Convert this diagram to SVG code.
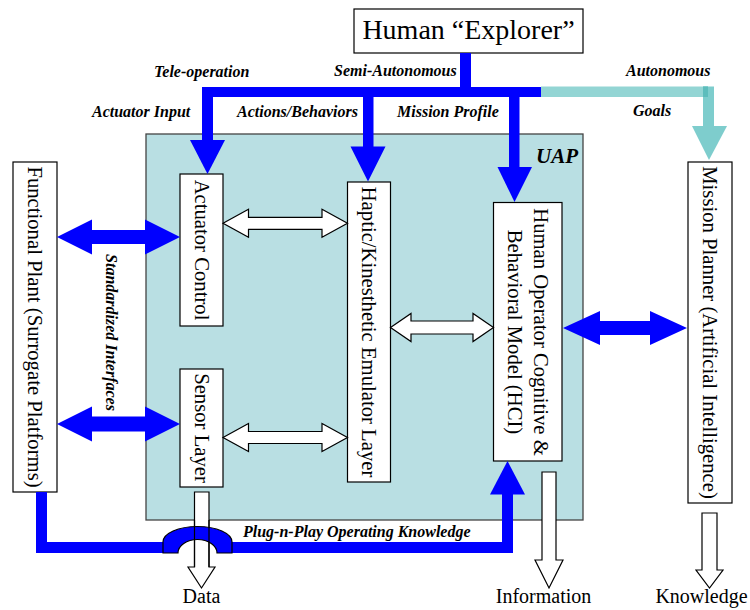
<svg xmlns="http://www.w3.org/2000/svg" width="750" height="610" viewBox="0 0 750 610">
<style>
.box{fill:#fff;stroke:#000;stroke-width:1.2}
.t{font-family:"Liberation Serif","Times New Roman",serif;font-size:20.7px;fill:#000}
.lbl{font-family:"Liberation Serif","Times New Roman",serif;font-size:16px;font-weight:bold;font-style:italic;fill:#000}
.blue{fill:#0000ff}
.wa{fill:#fff;stroke:#000;stroke-width:1.2;stroke-linejoin:miter}
</style>
<rect width="750" height="610" fill="#fff"/>

<g id="uap">
<rect x="146" y="134" width="437" height="386" fill="#b9dfe3" stroke="#444" stroke-width="1.3"/>
<text class="lbl" x="536" y="163" style="font-size:21px">UAP</text>
</g>

<g id="explorer">
<rect class="box" x="354" y="9" width="229" height="44"/>
<text class="t" x="468.5" y="39" text-anchor="middle" style="font-size:28px">Human “Explorer”</text>
</g>

<g id="plant">
<rect class="box" x="13" y="162" width="44" height="330"/>
<text class="t" transform="translate(35,327) rotate(90)" y="7" text-anchor="middle">Functional Plant (Surrogate Platforms)</text>
</g>

<g id="actuator">
<rect class="box" x="180" y="174" width="43" height="152"/>
<text class="t" transform="translate(201.5,250) rotate(90)" y="7" text-anchor="middle">Actuator Control</text>
</g>

<g id="sensor">
<rect class="box" x="180" y="369" width="43" height="118"/>
<text class="t" transform="translate(201.5,428) rotate(90)" y="7" text-anchor="middle">Sensor Layer</text>
</g>

<g id="haptic">
<rect class="box" x="347.5" y="182" width="43" height="300"/>
<text class="t" transform="translate(369,332) rotate(90)" y="7" text-anchor="middle">Haptic/Kinesthetic Emulator Layer</text>
</g>

<g id="hci">
<rect class="box" x="493.5" y="202.5" width="68.5" height="258.5"/>
<text class="t" transform="translate(527.7,332) rotate(90)" text-anchor="middle"><tspan x="0" y="-6.3">Human Operator Cognitive  &amp;</tspan><tspan x="0" y="20.2">Behavioral Model (HCI)</tspan></text>
</g>

<g id="planner">
<rect class="box" x="688" y="162" width="44" height="341"/>
<text class="t" transform="translate(710,332.5) rotate(90)" y="7" text-anchor="middle">Mission Planner (Artificial Intelligence)</text>
</g>

<g id="connectors">
<!-- top bus -->
<rect class="blue" x="460" y="53" width="11" height="40"/>
<rect class="blue" x="202" y="87" width="339" height="10"/>
<rect class="blue" x="202" y="92" width="11" height="49"/>
<polygon class="blue" points="190,140 225,140 207.5,174"/>
<rect class="blue" x="363" y="92" width="10.5" height="56"/>
<polygon class="blue" points="350.5,146.5 385.5,146.5 368,181.5"/>
<rect class="blue" x="509" y="92" width="10.5" height="76"/>
<polygon class="blue" points="497.5,167 532,167 514.5,202"/>
<!-- teal autonomous -->
<rect x="541" y="86.5" width="167" height="10.5" fill="#93d5d4"/>
<rect x="703" y="86.5" width="11" height="40" fill="#7ecdcd"/>
<rect x="703" y="86.5" width="5" height="10.5" fill="#5dbdbc"/>
<polygon points="692,126 727,126 709,160" fill="#7ecdcd"/>
<!-- blue double arrows -->
<polygon class="blue" points="57,237 92,219.5 92,230 145,230 145,219.5 180,237 145,254.5 145,244 92,244 92,254.5"/>
<polygon class="blue" points="57,424 92,406.5 92,416.5 145,416.5 145,406.5 180,424 145,441.5 145,431.5 92,431.5 92,441.5"/>
<polygon class="blue" points="563,328 600,311 600,321 650,321 650,311 687,328 650,345 650,335 600,335 600,345"/>
<!-- white double arrows -->
<polygon class="wa" points="223,223.3 248.5,209.3 248.5,217.3 322,217.3 322,209.3 347.5,223.3 322,237.3 322,229.3 248.5,229.3 248.5,237.3"/>
<polygon class="wa" points="223,437.5 248.5,423.5 248.5,431.5 322,431.5 322,423.5 347.5,437.5 322,451.5 322,443.5 248.5,443.5 248.5,451.5"/>
<polygon class="wa" points="390.5,327.5 411,313.5 411,321 473,321 473,313.5 493.5,327.5 473,341.5 473,334 411,334 411,341.5"/>
<!-- output arrows -->
<polygon class="wa" points="194.5,492 209,492 209,567 215,567 201.5,588 188,567 194.5,567"/>
<polygon class="wa" points="542,472 556,472 556,560 563,560 549,588 535,560 542,560"/>
<polygon class="wa" points="702,513 717,513 717,570 723,570 709.5,588 696,570 702,570"/>
<!-- bottom bus (plug-n-play) -->
<rect class="blue" x="36" y="492" width="11" height="61"/>
<rect class="blue" x="36" y="542" width="128" height="11"/>
<rect class="blue" x="231" y="542" width="282" height="11"/>
<rect class="blue" x="502" y="493" width="11" height="60"/>
<polygon class="blue" points="490,494.5 525,494.5 507.5,461"/>
<path d="M163,553 L163,542 A34.5,15.5 0 0 1 232,542 L232,553 L217,553 A19.5,13.5 0 0 0 178,553 Z" fill="#0000ff" stroke="#000" stroke-width="1.2"/>
<path d="M194.5,520 V567 M209,520 V567" fill="none" stroke="#000" stroke-width="1.2"/>
</g>

<g id="labels">
<text class="lbl" x="154" y="77">Tele-operation</text>
<text class="lbl" x="334" y="76">Semi-Autonomous</text>
<text class="lbl" x="626" y="76">Autonomous</text>
<text class="lbl" x="92" y="117">Actuator Input</text>
<text class="lbl" x="237" y="117">Actions/Behaviors</text>
<text class="lbl" x="397" y="117">Mission Profile</text>
<text class="lbl" x="633" y="116">Goals</text>
<text class="lbl" transform="translate(106,332.5) rotate(90)" text-anchor="middle">Standardized Interfaces</text>
<text class="lbl" x="243" y="537">Plug-n-Play Operating Knowledge</text>
<text class="t" x="201.5" y="603" text-anchor="middle" style="font-size:20px">Data</text>
<text class="t" x="543.5" y="603" text-anchor="middle" style="font-size:20px">Information</text>
<text class="t" x="701.5" y="603" text-anchor="middle" style="font-size:20px">Knowledge</text>
</g>
</svg>
